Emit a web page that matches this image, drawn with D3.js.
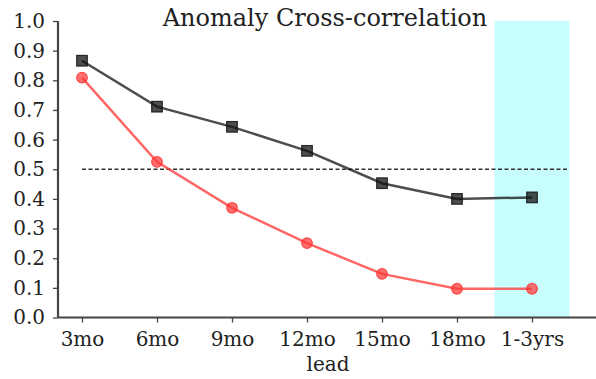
<!DOCTYPE html>
<html><head><meta charset="utf-8">
<script src="https://cdn.jsdelivr.net/npm/d3@7"></script>
<style>body{margin:0;background:#fff}svg{display:block}text{font-family:"DejaVu Serif",serif;fill:#222}</style>
</head><body><svg id="c" width="596" height="379"></svg>
<script>
const categories = ["3mo","6mo","9mo","12mo","15mo","18mo","1-3yrs"];
const blackSeries = [0.866, 0.711, 0.643, 0.562, 0.453, 0.400, 0.405];
const redSeries = [0.809, 0.525, 0.370, 0.251, 0.147, 0.097, 0.097];
const yTicks = [0.0,0.1,0.2,0.3,0.4,0.5,0.6,0.7,0.8,0.9,1.0];
const refLine = 0.5;
const spanRange = [5.5, 6.5];

const svg = d3.select("#c");
const x = d3.scaleLinear().domain([-0.32, 6.84]).range([58, 595]);
const y = d3.scaleLinear().domain([0, 1]).range([317.5, 21]);

svg.append("rect").attr("x", x(spanRange[0])).attr("y", y(1)).attr("width", x(spanRange[1]) - x(spanRange[0])).attr("height", y(0) - y(1)).attr("fill", "#c8fdfd");

svg.append("line").attr("x1", x(0)).attr("x2", x(6.5)).attr("y1", y(refLine)).attr("y2", y(refLine)).attr("stroke", "#333").attr("stroke-width", 1.5).attr("stroke-dasharray", "4,2.5");

const yAxis = d3.axisLeft(y).tickValues(yTicks).tickFormat(d3.format(".1f")).tickSize(5).tickPadding(8);
const gy = svg.append("g").attr("transform", "translate(58,0)").call(yAxis);
const xAxis = d3.axisBottom(x).tickValues(d3.range(categories.length)).tickFormat(i => categories[i]).tickSize(5).tickPadding(9);
const gx = svg.append("g").attr("transform", `translate(0,${y(0)})`).call(xAxis);
[gx, gy].forEach(g => {
  g.select(".domain").attr("stroke", "#444").attr("stroke-width", 2.2);
  g.selectAll(".tick line").attr("stroke", "#444").attr("stroke-width", 1.3);
  g.selectAll(".tick text").style("font-family", "DejaVu Serif").style("font-size", "20px").attr("fill", "#222");
});
gy.select(".domain").attr("d", `M-0,${y(1)}V${y(0)}`);
gx.select(".domain").attr("d", `M58,0H596`);

const line = d3.line().x((d,i) => x(i)).y(d => y(d));
svg.append("path").datum(redSeries).attr("d", line).attr("fill","none").attr("stroke","#ff3333").attr("stroke-opacity",0.75).attr("stroke-width",2.5);
svg.append("path").datum(blackSeries).attr("d", line).attr("fill","none").attr("stroke","#111").attr("stroke-opacity",0.75).attr("stroke-width",2.5);

svg.selectAll("circle.r").data(redSeries).enter().append("circle").attr("cx",(d,i)=>x(i)).attr("cy",d=>y(d)).attr("r",5.3).attr("fill","#ff3333").attr("fill-opacity",0.7).attr("stroke","#ff3333").attr("stroke-opacity",0.85).attr("stroke-width",1.2);
svg.selectAll("rect.b").data(blackSeries).enter().append("rect").attr("x",(d,i)=>x(i)-5.3).attr("y",d=>y(d)-5.3).attr("width",10.6).attr("height",10.6).attr("fill","#111").attr("fill-opacity",0.75).attr("stroke","#111").attr("stroke-opacity",0.85).attr("stroke-width",1.2);

svg.append("text").attr("x", 325).attr("y", 26).attr("text-anchor","middle").style("font-size","24px").text("Anomaly Cross-correlation");
svg.append("text").attr("x", 328).attr("y", 371).attr("text-anchor","middle").style("font-size","20px").text("lead");
</script></body></html>
